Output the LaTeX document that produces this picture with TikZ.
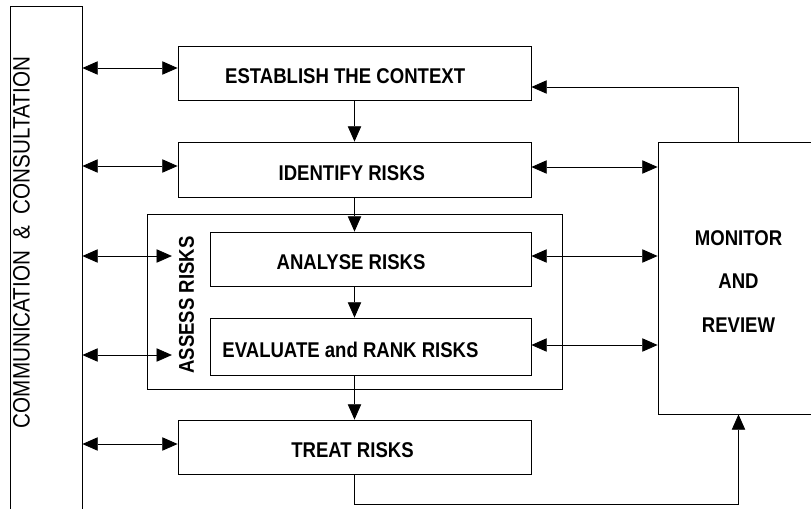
\documentclass[tikz,border=0pt]{standalone}
\usepackage{fontspec}
\setmainfont{Liberation Sans}
\newfontfamily\stagefont{Liberation Sans}[FakeStretch=0.87]
\usetikzlibrary{arrows.meta}

\tikzset{
  stage/.style={draw, inner sep=0pt, minimum height=40.5pt},
  caption/.style={font=\stagefont\bfseries\fontsize{16}{18}\selectfont, inner sep=0pt, yshift=-2.5pt},
  arr/.style={-{Triangle[length=11.5pt,width=10pt]}},
  biarr/.style={{Triangle[length=11.5pt,width=10pt]}-{Triangle[length=11.5pt,width=10pt]}},
}

\begin{document}
\begin{tikzpicture}[x=0.75pt, y=-0.75pt, line width=0.6pt]
            \useasboundingbox (0,0) rectangle (811,508);

            % side boxes
            \node[draw, minimum width=54pt, minimum height=385.5pt] (comm) at (46,263) {};
            \node[rotate=90, font=\stagefont\fontsize{17.8}{20}\selectfont] (commtext) at (21.5,242.5) {COMMUNICATION\ \ \&\ \ CONSULTATION};
            \node[draw, minimum width=120.75pt, minimum height=204pt] (mon) at (738.5,278) {};
            \node[align=center, font=\stagefont\bfseries\fontsize{16}{32.6}\selectfont] (montext) at (738.5,281.5) {MONITOR\\AND\\REVIEW};

            % main steps
            \node[stage, minimum width=264.75pt, label={[caption, xshift=-7pt]center:ESTABLISH THE CONTEXT}] (est) at (354.5,73) {};
            \node[stage, minimum width=264.75pt, minimum height=41.25pt, label={[caption, xshift=-2pt]center:IDENTIFY RISKS}] (idr) at (354.5,169.5) {};
            \node[draw, minimum width=311.25pt, minimum height=131.25pt] (assess) at (354.5,301.5) {};
            \node[stage, minimum width=240.75pt, label={[caption, xshift=-14.6pt]center:ANALYSE RISKS}] (ana) at (370.5,259) {};
            \node[stage, minimum width=240.75pt, minimum height=42.75pt, label={[caption, xshift=-15pt]center:EVALUATE and RANK RISKS}] (eva) at (370.5,346.5) {};
            \node[rotate=90, caption, yshift=2.5pt, inner sep=5pt] (asslbl) at (186.5,305) {ASSESS RISKS};
            \node[stage, minimum width=264.75pt, label={[caption, xshift=-1.5pt]center:TREAT RISKS}] (trt) at (354.5,447) {};

            % flow
            \draw[arr] (est.south) -- (idr.north);
            \draw[arr] (idr.south) -- (idr.south |- ana.north);
            \draw[arr] (ana.south -| idr.south) -- (eva.north -| idr.south);
            \draw[arr] (eva.south -| trt.north) -- (trt.north);
            \draw[arr] (trt.south) -- (trt.south |- 0,504) -| (mon.south);
            \draw[arr] (mon.north) |- (est.east |- 0,87);

            % communication and monitoring
            \foreach \y/\tgt in {68/est, 166/idr, 444/trt}
              \draw[biarr] (comm.east |- 0,\y) -- (\tgt.west |- 0,\y);
            \foreach \y in {256, 355}
              \draw[biarr] (comm.east |- 0,\y) -- (asslbl.north |- 0,\y);
            \foreach \y/\src in {167/idr, 256/ana, 345/eva}
              \draw[biarr] (\src.east |- 0,\y) -- (mon.west |- 0,\y);
\end{tikzpicture}
\end{document}
